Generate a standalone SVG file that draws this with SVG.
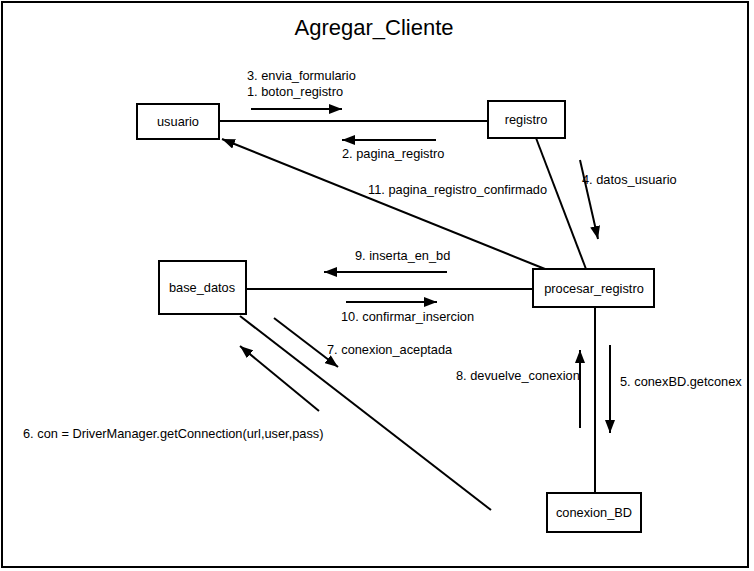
<svg xmlns="http://www.w3.org/2000/svg" width="754" height="571" viewBox="0 0 754 571">
<defs>
<marker id="ah" viewBox="0 0 13 10" refX="13" refY="5" markerWidth="13" markerHeight="10" markerUnits="userSpaceOnUse" orient="auto">
<path d="M0,0 L13,5 L0,10 Z" fill="#000"/>
</marker>
</defs>
<style>
.box{fill:#fff;stroke:#000;stroke-width:2}
.lbl{font-family:"Liberation Sans",Arial,sans-serif;font-size:12.8px;fill:#000}
.nt{font-family:"Liberation Sans",Arial,sans-serif;font-size:12.8px;fill:#000;text-anchor:middle}
.ln{stroke:#000;stroke-width:2;fill:none}
.ar{stroke:#000;stroke-width:2;fill:none;marker-end:url(#ah)}
</style>
<rect x="0" y="0" width="754" height="571" fill="#fff"/>
<rect x="2" y="2" width="746" height="565" fill="none" stroke="#000" stroke-width="2"/>
<text x="374" y="35" font-family="Liberation Sans,Arial,sans-serif" font-size="22" text-anchor="middle">Agregar_Cliente</text>
<g id="connectors">
<line class="ln" x1="219" y1="121" x2="488" y2="121"/>
<line class="ar" x1="251" y1="109" x2="342" y2="109"/>
<line class="ar" x1="436" y1="140" x2="342" y2="140"/>
<line class="ln" x1="536" y1="138" x2="586" y2="269"/>
<line class="ar" x1="580" y1="160" x2="598" y2="239"/>
<line class="ar" x1="545" y1="269" x2="222" y2="139"/>
<line class="ln" x1="246" y1="289" x2="533" y2="289"/>
<line class="ar" x1="447" y1="272" x2="324" y2="272"/>
<line class="ar" x1="346" y1="302" x2="437" y2="302"/>
<line class="ln" x1="595" y1="307" x2="595" y2="493"/>
<line class="ar" x1="580" y1="428" x2="580" y2="350"/>
<line class="ar" x1="610" y1="345" x2="610" y2="433"/>
<line class="ln" stroke-width="1.5" x1="240" y1="316" x2="491" y2="510"/>
<line class="ar" x1="274" y1="318" x2="338" y2="367"/>
<line class="ar" x1="319" y1="411" x2="240" y2="346"/>
</g>
<g id="labels">
<text class="lbl" x="247" y="80">3. envia_formulario</text>
<text class="lbl" x="247" y="96">1. boton_registro</text>
<text class="lbl" x="342" y="158">2. pagina_registro</text>
<text class="lbl" x="582" y="184">4. datos_usuario</text>
<text class="lbl" x="368" y="194">11. pagina_registro_confirmado</text>
<text class="lbl" x="355" y="260">9. inserta_en_bd</text>
<text class="lbl" x="341" y="321">10. confirmar_insercion</text>
<text class="lbl" x="327" y="354">7. conexion_aceptada</text>
<text class="lbl" x="456" y="380">8. devuelve_conexion</text>
<text class="lbl" x="620" y="386">5. conexBD.getconex</text>
<text class="lbl" x="23" y="438">6. con = DriverManager.getConnection(url,user,pass)</text>
</g>
<g id="usuario"><rect class="box" x="137" y="104" width="82" height="35"/><text class="nt" x="178" y="126">usuario</text></g>
<g id="registro"><rect class="box" x="488" y="101" width="77" height="37"/><text class="nt" x="526" y="124">registro</text></g>
<g id="base_datos"><rect class="box" x="159" y="261" width="87" height="53"/><text class="nt" x="202" y="292">base_datos</text></g>
<g id="procesar_registro"><rect class="box" x="533" y="269" width="121" height="38"/><text class="nt" x="594" y="293">procesar_registro</text></g>
<g id="conexion_BD"><rect class="box" x="547" y="493" width="94" height="39"/><text class="nt" x="594" y="517">conexion_BD</text></g>
</svg>
